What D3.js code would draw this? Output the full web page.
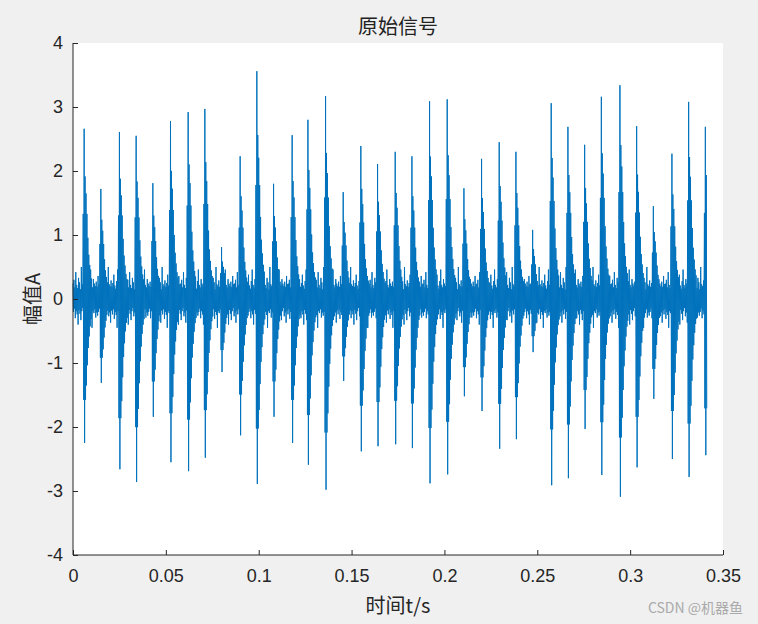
<!DOCTYPE html>
<html>
<head>
<meta charset="utf-8">
<script src="https://cdn.jsdelivr.net/npm/d3@7"></script>
<style>
  html, body { margin: 0; padding: 0; background: #f0f0f0; }
  svg { display: block; }
</style>
</head>
<body>
<script>
// impact times (s), with the positive / negative peak of each burst
const impactT = [0.0059, 0.0151, 0.0248, 0.0339, 0.0431, 0.0527, 0.0619, 0.0710, 0.0802, 0.0899,
  0.0990, 0.1082, 0.1179, 0.1265, 0.1362, 0.1453, 0.1550, 0.1642, 0.1733, 0.1825,
  0.1921, 0.2013, 0.2104, 0.2201, 0.2293, 0.2384, 0.2476, 0.2573, 0.2664, 0.2756,
  0.2847, 0.2944, 0.3036, 0.3127, 0.3224, 0.3315, 0.3407];
const peakUp = [2.66, 1.72, 2.61, 2.55, 1.81, 2.78, 2.92, 2.97, 0.81, 2.23,
  3.56, 1.80, 2.56, 2.80, 3.17, 1.67, 2.39, 2.11, 2.30, 2.23,
  3.09, 3.12, 1.73, 2.19, 2.45, 2.30, 1.08, 3.06, 2.69, 2.41,
  3.16, 3.34, 2.70, 1.45, 2.27, 3.08, 2.69];
const peakDown = [-2.25, -1.31, -2.66, -2.86, -1.84, -2.55, -2.69, -2.48, -1.14, -2.13,
  -2.89, -1.84, -2.25, -2.59, -2.98, -1.28, -2.38, -2.30, -2.27, -2.33,
  -2.88, -2.74, -1.52, -1.75, -2.34, -2.19, -0.83, -2.91, -2.80, -2.03,
  -2.75, -3.09, -2.63, -1.56, -2.50, -2.78, -2.44];
// shape of one burst, relative to its peak, per column from one column before the spike
const burstUp = [0.5, 1.0, 0.72, 0.62, 0.5, 0.36, 0.26, 0.2, 0.15, 0.12];
const burstDown = [0.7, 1.0, 0.7, 0.6, 0.46, 0.34, 0.26, 0.19, 0.14, 0.11];
// background noise edges read from a quiet stretch
const noiseHi = [0.24, 0.3, 0.18, 0.42, 0.22, 0.17, 0.33, 0.26, 0.15, 0.5, 0.23, 0.2, 0.29, 0.19,
  0.25, 0.38, 0.21, 0.16, 0.28, 0.46, 0.22, 0.18, 0.31, 0.24, 0.2, 0.27, 0.19, 0.36, 0.23];
const noiseLo = [-0.2, -0.15, -0.3, -0.19, -0.24, -0.4, -0.17, -0.23, -0.33, -0.19, -0.14, -0.27,
  -0.21, -0.37, -0.18, -0.24, -0.16, -0.31, -0.2, -0.25, -0.45, -0.19, -0.22, -0.16, -0.29,
  -0.21, -0.26];
const step = 0.0005;
const tEnd = 0.3413;

const xTicks = [0, 0.05, 0.1, 0.15, 0.2, 0.25, 0.3, 0.35];
const yTicks = [-4, -3, -2, -1, 0, 1, 2, 3, 4];

const W = 758, H = 624;
const margin = {left: 73, right: 35, top: 43, bottom: 69};

const svg = d3.select('body').append('svg')
  .attr('width', W).attr('height', H)
  .attr('xmlns', 'http://www.w3.org/2000/svg');

svg.append('rect').attr('width', W).attr('height', H).attr('fill', '#f0f0f0');

const x = d3.scaleLinear().domain([0, 0.35]).range([margin.left, W - margin.right]);
const y = d3.scaleLinear().domain([-4, 4]).range([H - margin.bottom, margin.top]);

svg.append('rect')
  .attr('x', x(0)).attr('y', y(4))
  .attr('width', x(0.35) - x(0)).attr('height', y(-4) - y(4))
  .attr('fill', '#fff');

// build the trace: each column goes up to its top edge and down to its bottom edge
let pts = [];
let n = Math.floor(tEnd / step);
for (let i = 0; i <= n; i++) {
  let t = i * step;
  let hi = noiseHi[i % noiseHi.length];
  let lo = noiseLo[i % noiseLo.length];
  impactT.forEach((ti, j) => {
    let k = Math.round((t - ti) / step) + 1;
    if (k >= 0 && k < burstUp.length) {
      hi = Math.max(hi, burstUp[k] * peakUp[j]);
      lo = Math.min(lo, burstDown[k] * peakDown[j]);
    }
  });
  pts.push([t, hi]);
  pts.push([t + step / 2, lo]);
}

const line = d3.line().x(d => x(d[0])).y(d => y(d[1]));

svg.append('path')
  .datum(pts)
  .attr('d', line)
  .attr('fill', 'none')
  .attr('stroke', '#0072bd')
  .attr('stroke-width', 1)
  .attr('stroke-linejoin', 'miter');

// axes
const fmt = d => String(d);
const xAxis = svg.append('g')
  .attr('transform', `translate(0,${y(-4)})`)
  .call(d3.axisBottom(x).tickValues(xTicks).tickSize(-5).tickPadding(14).tickFormat(fmt));
const yAxis = svg.append('g')
  .attr('transform', `translate(${x(0)},0)`)
  .call(d3.axisLeft(y).tickValues(yTicks).tickSize(-5).tickPadding(10).tickFormat(fmt));

[xAxis, yAxis].forEach(g => {
  g.select('.domain').attr('stroke', '#262626').attr('stroke-width', 1);
  g.selectAll('.tick line').attr('stroke', '#262626');
  g.selectAll('.tick text')
    .attr('fill', '#262626')
    .style('font-family', '"Liberation Sans", Arial, sans-serif')
    .style('font-size', '18px');
});
xAxis.select('.domain').attr('d', `M${x(0)},0H${x(0.35)}`);
yAxis.select('.domain').attr('d', `M0,${y(-4)}V${y(4)}`);

const cjk = '"Noto Sans CJK SC", "Liberation Sans", sans-serif';

svg.append('text')
  .attr('x', 398).attr('y', 34)
  .attr('text-anchor', 'middle')
  .style('font-family', cjk).style('font-size', '20px')
  .attr('fill', '#222')
  .text('原始信号');

svg.append('text')
  .attr('x', 398).attr('y', 613)
  .attr('text-anchor', 'middle')
  .style('font-family', cjk).style('font-size', '20px')
  .attr('fill', '#262626')
  .text('时间t/s');

svg.append('text')
  .attr('transform', `translate(40,${y(0)}) rotate(-90)`)
  .attr('text-anchor', 'middle')
  .style('font-family', cjk).style('font-size', '20px')
  .attr('fill', '#262626')
  .text('幅值A');

svg.append('text')
  .attr('x', 743).attr('y', 613)
  .attr('text-anchor', 'end')
  .style('font-family', cjk).style('font-size', '14px')
  .attr('fill', '#aaa')
  .text('CSDN @机器鱼');
</script>
</body>
</html>
